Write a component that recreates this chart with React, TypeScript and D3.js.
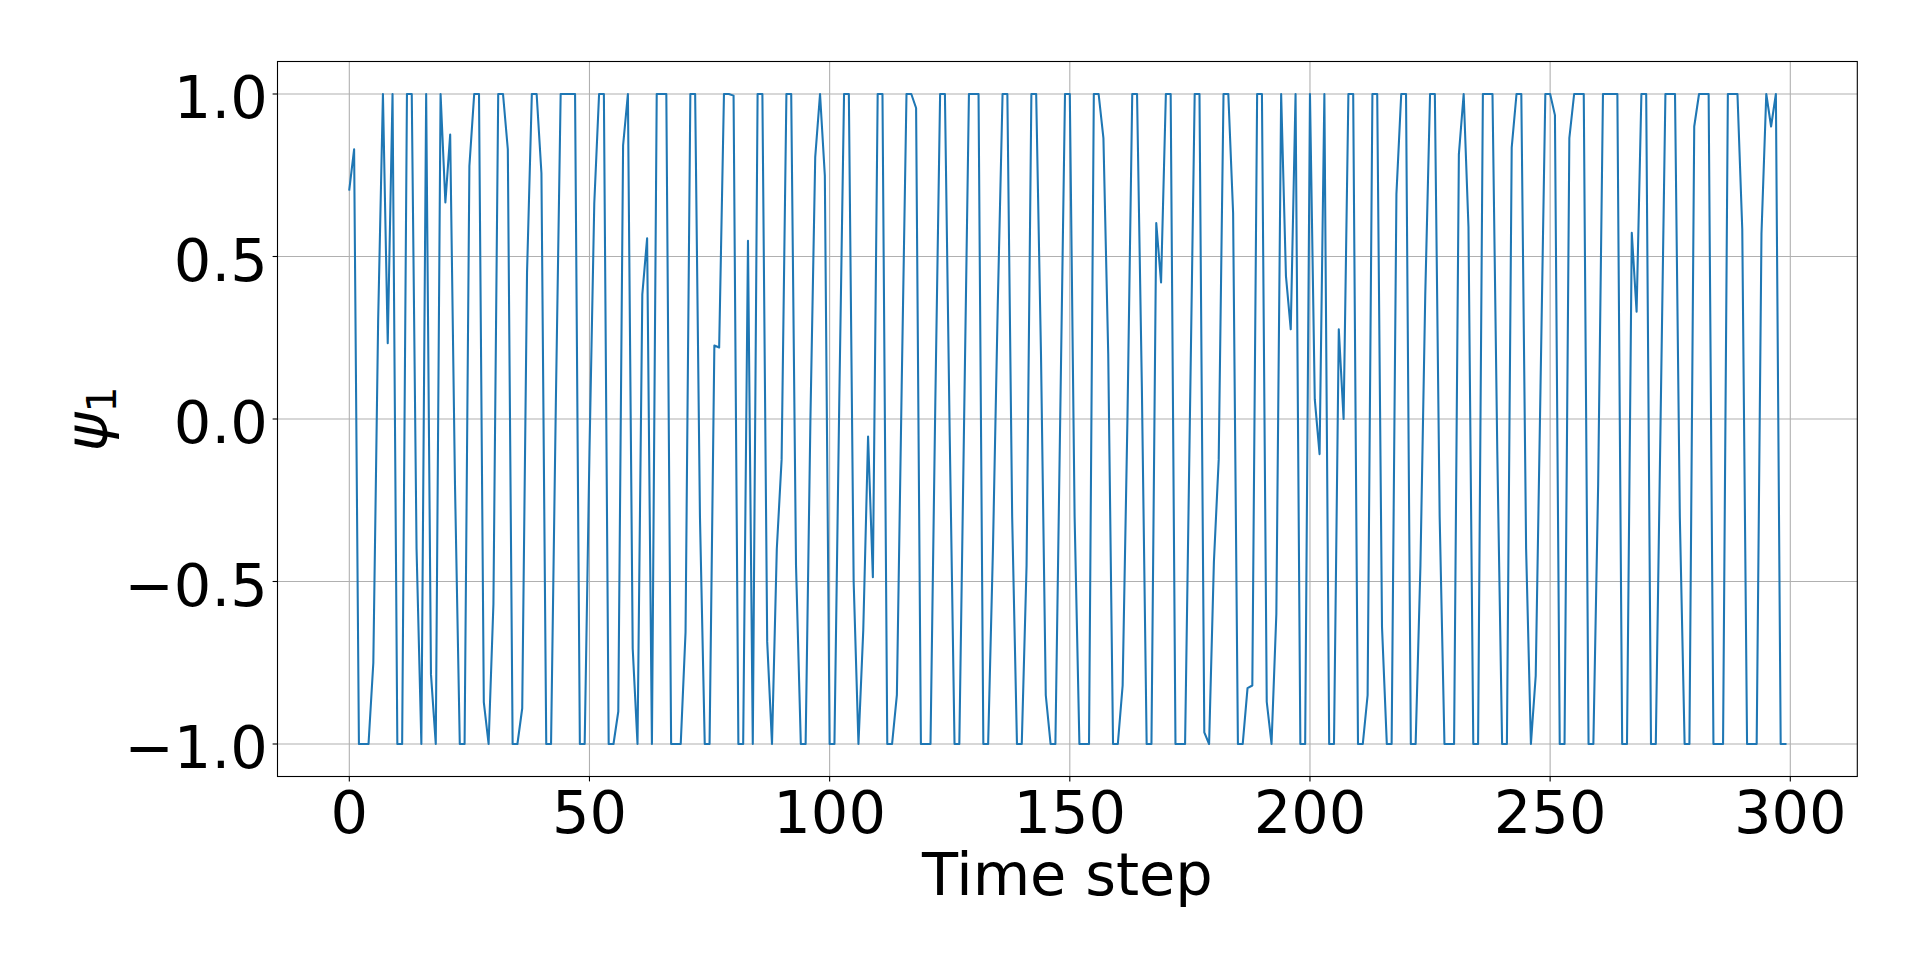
import React from "react";
import * as d3 from "d3";

// ψ1 values per time step (steps 0–299)
const psiSteps0to49 = [
  0.706, 0.83, -1, -1, -1, -0.75, 0.3, 1, 0.233, 1,
  -1, -1, 1, 1, -0.4, -1, 1, -0.785, -1, 1,
  0.666, 0.875, -0.2, -1, -1, 0.778, 1, 1, -0.871, -1,
  -0.57, 1, 1, 0.83, -1, -1, -0.89, 0.45, 1, 1,
  0.756, -1, -1, 0.05, 1, 1, 1, 1, -1, -1,
];
const psiSteps50to99 = [
  -0.1, 0.663, 1, 1, -1, -1, -0.9, 0.842, 1, -0.706,
  -1, 0.383, 0.556, -1, 1, 1, 1, -1, -1, -1,
  -0.656, 1, 1, -0.3, -1, -1, 0.226, 0.22, 1, 1,
  0.995, -1, -1, 0.548, -1, 1, 1, -0.685, -1, -0.4,
  -0.125, 1, 1, -0.45, -1, -1, 0, 0.806, 1, 0.749,
];
const psiSteps100to149 = [
  -1, -1, 0.05, 1, 1, -0.5, -1, -0.65, -0.054, -0.487,
  1, 1, -1, -1, -0.849, 0.1, 1, 1, 0.957, -1,
  -1, -1, 0.05, 1, 1, -0.05, -1, -1, 0, 1,
  1, 1, -1, -1, -0.4, 0.35, 1, 1, -0.3, -1,
  -1, -0.45, 1, 1, 0.2, -0.85, -1, -1, 0, 1,
];
const psiSteps150to199 = [
  1, -0.3, -1, -1, -1, 1, 1, 0.864, 0.2, -1,
  -1, -0.82, 0, 1, 1, 0.1, -1, -1, 0.603, 0.42,
  1, 1, -1, -1, -1, 0, 1, 1, -0.964, -1,
  -0.44, -0.125, 1, 1, 0.634, -1, -1, -0.828, -0.82, 1,
  1, -0.87, -1, -0.6, 1, 0.44, 0.276, 1, -1, -1,
];
const psiSteps200to249 = [
  1, 0.061, -0.108, 1, -1, -1, 0.276, 0, 1, 1,
  -1, -1, -0.85, 1, 1, -0.64, -1, -1, 0.692, 1,
  1, -1, -1, -0.45, 0.38, 1, 1, -0.3, -1, -1,
  -1, 0.814, 1, 0.591, -1, -1, 1, 1, 1, -0.1,
  -1, -1, 0.835, 1, 1, -0.4, -1, -0.79, 0.1, 1,
];
const psiSteps250to299 = [
  1, 0.935, -1, -1, 0.864, 1, 1, 1, -1, -1,
  -0.2, 1, 1, 1, 1, -1, -1, 0.573, 0.33, 1,
  1, -1, -1, 0, 1, 1, 1, -0.3, -1, -1,
  0.9, 1, 1, 1, -1, -1, -1, 1, 1, 1,
  0.584, -1, -1, -1, 0.57, 1, 0.9, 1, -1, -1,
];

const xTicks = [0, 50, 100, 150, 200, 250, 300];
const yTicks = [-1.0, -0.5, 0.0, 0.5, 1.0];
const xLabel = "Time step";

const W = 1920;
const H = 969;
const L = 277.5;
const R = 1857.3;
const T = 61.5;
const B = 776.5;
const FONT = "'DejaVu Sans', sans-serif";
const FS = 59;

export default function App() {
  const values = [
    ...psiSteps0to49,
    ...psiSteps50to99,
    ...psiSteps100to149,
    ...psiSteps150to199,
    ...psiSteps200to249,
    ...psiSteps250to299,
  ];
  const n = values.length;
  const xMargin = (n - 1) * 0.05;
  const x = d3.scaleLinear().domain([-xMargin, n - 1 + xMargin]).range([L, R]);
  const y = d3.scaleLinear().domain([-1.1, 1.1]).range([B, T]);
  const line = d3
    .line<number>()
    .x((_, i) => x(i))
    .y((v) => y(v));
  const path = line(values) || "";
  const fmt = (v: number) => {
    const s = v.toFixed(1);
    return v < 0 ? "\u2212" + s.slice(1) : s;
  };
  const tickLen = 4.9;
  const pad = 4.9;

  return (
    <svg
      width={W}
      height={H}
      viewBox={`0 0 ${W} ${H}`}
      style={{ position: "absolute", left: 0, top: 0, background: "#fff", display: "block" }}
    >
      <rect x={0} y={0} width={W} height={H} fill="#fff" />
      <defs>
        <clipPath id="plotclip">
          <rect x={L} y={T} width={R - L} height={B - T} />
        </clipPath>
      </defs>
      {/* grid */}
      <g stroke="#b0b0b0" strokeWidth={1.1}>
        {xTicks.map((t) => (
          <line key={"gx" + t} x1={x(t)} x2={x(t)} y1={T} y2={B} />
        ))}
        {yTicks.map((t) => (
          <line key={"gy" + t} x1={L} x2={R} y1={y(t)} y2={y(t)} />
        ))}
      </g>
      {/* series */}
      <path
        d={path}
        fill="none"
        stroke="#1f77b4"
        strokeWidth={2.08}
        strokeLinejoin="round"
        strokeLinecap="square"
        clipPath="url(#plotclip)"
      />
      {/* spines */}
      <rect x={L} y={T} width={R - L} height={B - T} fill="none" stroke="#000" strokeWidth={1.1} />
      {/* ticks */}
      <g stroke="#000" strokeWidth={1.1}>
        {xTicks.map((t) => (
          <line key={"tx" + t} x1={x(t)} x2={x(t)} y1={B} y2={B + tickLen} />
        ))}
        {yTicks.map((t) => (
          <line key={"ty" + t} x1={L - tickLen} x2={L} y1={y(t)} y2={y(t)} />
        ))}
      </g>
      {/* tick labels */}
      <g fontFamily={FONT} fontSize={FS} fill="#000">
        {xTicks.map((t) => (
          <text key={"lx" + t} x={x(t)} y={833} textAnchor="middle">
            {String(t)}
          </text>
        ))}
        {yTicks.map((t) => (
          <text key={"ly" + t} x={L - tickLen - pad} y={y(t) + 24} textAnchor="end">
            {fmt(t)}
          </text>
        ))}
      </g>
      {/* axis labels */}
      <text x={(L + R) / 2} y={895} textAnchor="middle" fontFamily={FONT} fontSize={FS} fill="#000">
        {xLabel}
      </text>
      <text
        transform={`translate(107, ${(T + B) / 2}) rotate(-90)`}
        textAnchor="middle"
        fontFamily={FONT}
        fontSize={FS}
        fill="#000"
      >
        <tspan fontStyle="italic">ψ</tspan>
        <tspan fontSize={41} dy={9}>1</tspan>
      </text>
    </svg>
  );
}
